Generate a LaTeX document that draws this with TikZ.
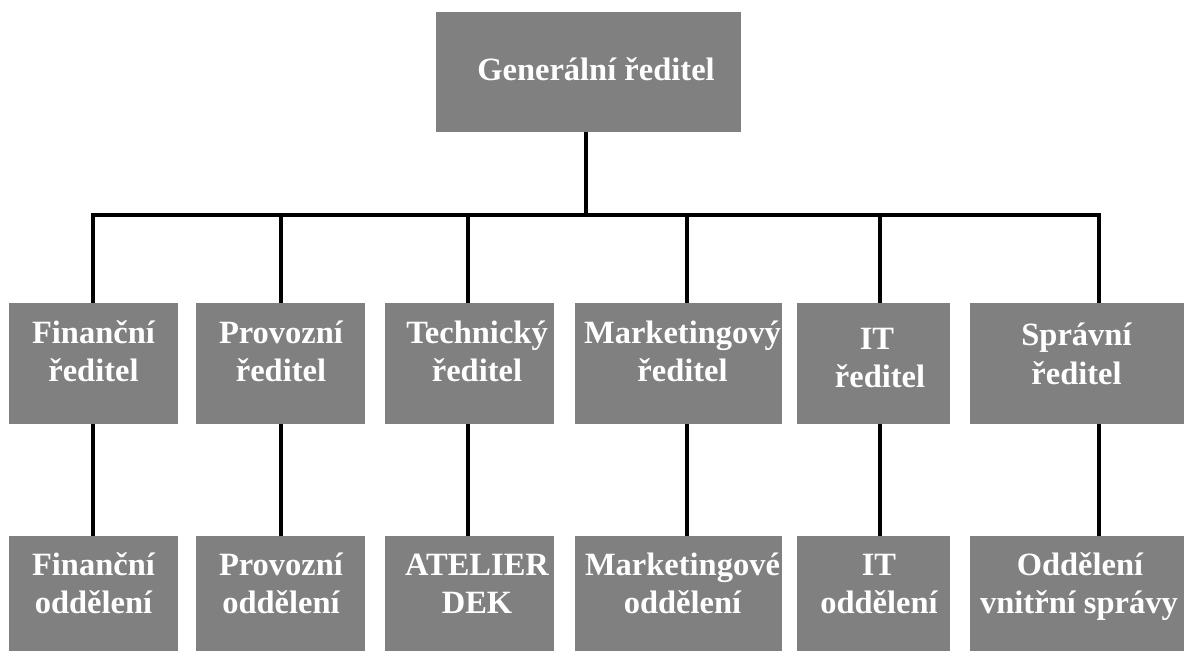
\documentclass[tikz,border=0pt]{standalone}
\usepackage{fontspec}
\setmainfont{Liberation Serif}
\definecolor{boxgray}{HTML}{808080}
\begin{document}
\begin{tikzpicture}[x=1pt,y=-1pt,
  box/.style={fill=boxgray,draw=none,anchor=north west,inner sep=0pt,outer sep=0pt},
  txt/.style={text=white,font=\fontsize{32.5}{38}\selectfont\bfseries,anchor=base,inner sep=0pt},
  conn/.style={draw=black,line width=3.5pt,line join=miter}]
\useasboundingbox (0,0) rectangle (1184,651);
% boxes
\node[box,minimum width=305pt,minimum height=120pt] (g) at (436,12) {};
\node[box,minimum width=169pt,minimum height=121pt] (m1) at (9,303) {};
\node[box,minimum width=169pt,minimum height=121pt] (m2) at (196,303) {};
\node[box,minimum width=169pt,minimum height=121pt] (m3) at (385,303) {};
\node[box,minimum width=207pt,minimum height=121pt] (m4) at (575,303) {};
\node[box,minimum width=153pt,minimum height=121pt] (m5) at (797,303) {};
\node[box,minimum width=214pt,minimum height=121pt] (m6) at (970,303) {};
\node[box,minimum width=169pt,minimum height=115pt] (d1) at (9,536) {};
\node[box,minimum width=169pt,minimum height=115pt] (d2) at (196,536) {};
\node[box,minimum width=169pt,minimum height=115pt] (d3) at (385,536) {};
\node[box,minimum width=207pt,minimum height=115pt] (d4) at (575,536) {};
\node[box,minimum width=153pt,minimum height=115pt] (d5) at (797,536) {};
\node[box,minimum width=214pt,minimum height=115pt] (d6) at (970,536) {};
% texts
\node[txt] (gt) at (596,80) {Generální ředitel};
\node[txt] (m1a) at (93.5,343) {Finanční};
\node[txt] (m1b) at (93.5,381) {ředitel};
\node[txt] (m2a) at (281,343) {Provozní};
\node[txt] (m2b) at (281,381) {ředitel};
\node[txt] (m3a) at (477,343) {Technický};
\node[txt] (m3b) at (477,381) {ředitel};
\node[txt] (m4a) at (682.5,343) {Marketingový};
\node[txt] (m4b) at (682.5,381) {ředitel};
\node[txt] (m5a) at (877,349) {IT};
\node[txt] (m5b) at (880,387) {ředitel};
\node[txt] (m6a) at (1076.5,345) {Správní};
\node[txt] (m6b) at (1076.5,384) {ředitel};
\node[txt] (d1a) at (93.5,575) {Finanční};
\node[txt] (d1b) at (93.5,613) {oddělení};
\node[txt] (d2a) at (281,575) {Provozní};
\node[txt] (d2b) at (281,613) {oddělení};
\node[txt] (d3a) at (477,575) {ATELIER};
\node[txt] (d3b) at (477,613) {DEK};
\node[txt] (d4a) at (682.5,575) {Marketingové};
\node[txt] (d4b) at (682.5,613) {oddělení};
\node[txt] (d5a) at (879,575) {IT};
\node[txt] (d5b) at (879,613) {oddělení};
\node[txt] (d6a) at (1080,575) {Oddělení};
\node[txt] (d6b) at (1079,613) {vnitřní správy};
% connectors
\coordinate (b0) at (586,215);
\coordinate (b1) at (93,215);
\coordinate (b2) at (281,215);
\coordinate (b3) at (468,215);
\coordinate (b4) at (687,215);
\coordinate (b5) at (880,215);
\coordinate (b6) at (1099,215);
\draw[conn] (b0 |- g.south) -- (b0);
\draw[conn] (b1 |- m1.north) -- (b1) -- (b6) -- (b6 |- m6.north);
\foreach \i in {2,3,4,5} {\draw[conn] (b\i) -- (b\i |- m\i.north);}
\foreach \i in {1,2,3,4,5,6} {\draw[conn] (b\i |- m\i.south) -- (b\i |- d\i.north);}
\end{tikzpicture}
\end{document}
